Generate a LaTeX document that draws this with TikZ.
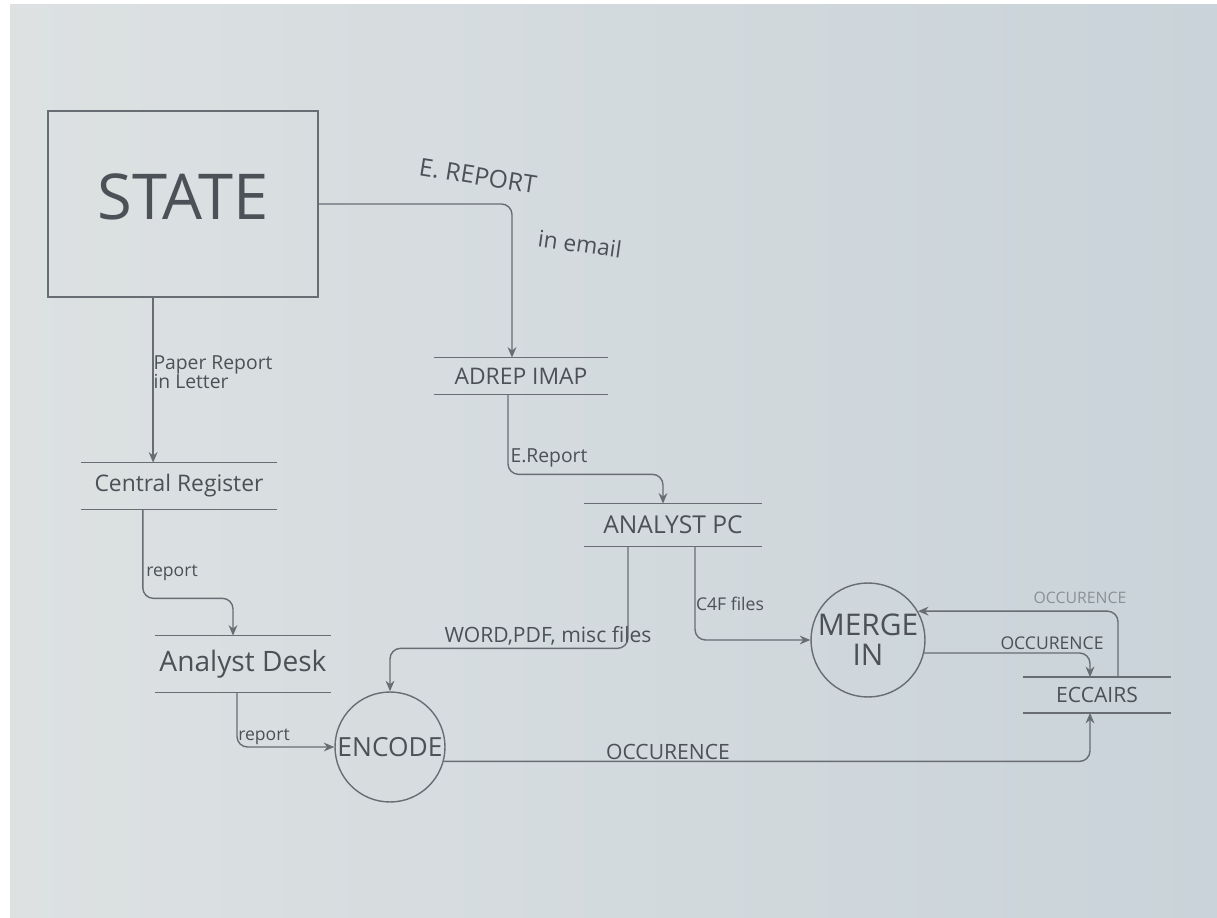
\documentclass[tikz,border=0pt]{standalone}
\usepackage{fontspec}
\setmainfont{Open Sans}
\usetikzlibrary{arrows.meta,calc}
\definecolor{boardL}{HTML}{DDE1E2}
\definecolor{boardR}{HTML}{C9D3D9}
\definecolor{pencil}{HTML}{676D73}
\definecolor{ink}{HTML}{4B5157}
\definecolor{faint}{HTML}{8A9197}
\tikzset{
  fs/.style={font=\fontsize{#1}{#1}\selectfont},
  flow/.style={draw=pencil,line width=0.8pt,rounded corners=6pt,
    -{Stealth[length=6pt,width=5pt]}},
  storebox/.style={inner sep=0pt,text=ink},
  process/.style={circle,draw=pencil,line width=0.8pt,text=ink,align=center,inner sep=0pt},
  lbl/.style={text=ink,inner sep=1pt},
  rule/.style={draw=pencil,line width=0.9pt},
}
\begin{document}
\begin{tikzpicture}[x=0.02cm,y=-0.02cm]
% whiteboard
\fill[white] (0,0) rectangle (1217,918);
\shade[left color=boardL,right color=boardR] (10,5) rectangle (1217,918);
\useasboundingbox (0,0) rectangle (1217,918);

% ---------- nodes ----------
\node[draw=pencil,line width=0.9pt,minimum width=5.4cm,minimum height=3.72cm,
      text=ink,fs=36,text depth=0.3cm] (state) at (183,204) {STATE};

\node[storebox,minimum width=3.48cm,minimum height=0.72cm,fs=13] (adrep) at (521,376) {ADREP IMAP};
\node[storebox,minimum width=3.56cm,minimum height=0.84cm,fs=14] (analyst) at (673,525) {ANALYST PC};
\node[storebox,minimum width=3.9cm,minimum height=0.92cm,fs=13] (central) at (179,486) {Central Register};
\node[storebox,minimum width=3.5cm,minimum height=1.12cm,fs=16] (desk) at (243,664) {Analyst Desk};
\node[storebox,minimum width=2.96cm,minimum height=0.7cm,fs=12] (eccairs) at (1097,695) {ECCAIRS};

\node[process,minimum size=2.28cm,fs=17] (merge) at (868,640) {MERGE\\IN};
\node[process,minimum size=2.2cm,fs=15] (encode) at (390,747) {ENCODE};

% data store rules
\foreach \s in {adrep,analyst,central,desk,eccairs}{
  \draw[rule] (\s.north west) -- (\s.north east);
  \draw[rule] (\s.south west) -- (\s.south east);
}

% ---------- flows ----------
\draw[flow] (state.east) -| ($(adrep.north)+(-9,0)$);
\node[lbl,fs=14,rotate=-9] (lErep) at (478,176) {E. REPORT};
\node[lbl,fs=13,rotate=-8] (lmail) at (580,244) {in email};

\draw[flow] ($(state.south west)!0.39!(state.south east)$) coordinate (s1)
  -- (s1 |- central.north);
\node[lbl,fs=11,align=left] (lpaper) at (213,372) {Paper Report\\ in Letter};

\draw[flow] ($(central.south west)!0.315!(central.south east)$) -- ++(0,89)
  -| ($(desk.north)+(-10,0)$);
\node[lbl,fs=10] (lrep1) at (172,573) {report};

\draw[flow] ($(desk.south)+(-6,0)$) |- (encode.west);
\node[lbl,fs=10] (lrep2) at (264,737) {report};

\draw[flow] ($(adrep.south)+(-13,0)$) -- ++(0,80) -| ($(analyst.north)+(-10,0)$);
\node[lbl,fs=11] (lErep2) at (549,458) {E.Report};

\draw[flow] ($(analyst.south)+(-45,0)$) -- ++(0,102) -| (encode.north);
\node[lbl,fs=12] (lword) at (548,636) {WORD,PDF, misc files};

\draw[flow] ($(analyst.south)+(22,0)$) |- (merge.west);
\node[lbl,fs=10] (lc4f) at (730,604) {C4F files};

\draw[flow] (merge.-13) -| ($(eccairs.north)+(-7,0)$);
\node[lbl,fs=10] (locc1) at (1052,643) {OCCURENCE};

\draw[flow] ($(eccairs.north)+(21,0)$) |- (merge.30);
\node[lbl,fs=9,text=faint] (locc2) at (1080,598) {OCCURENCE};

\draw[flow] (encode.-15) -| ($(eccairs.south)+(-7,0)$);
\node[lbl,fs=12] (locc3) at (668,752) {OCCURENCE};
\end{tikzpicture}
\end{document}
